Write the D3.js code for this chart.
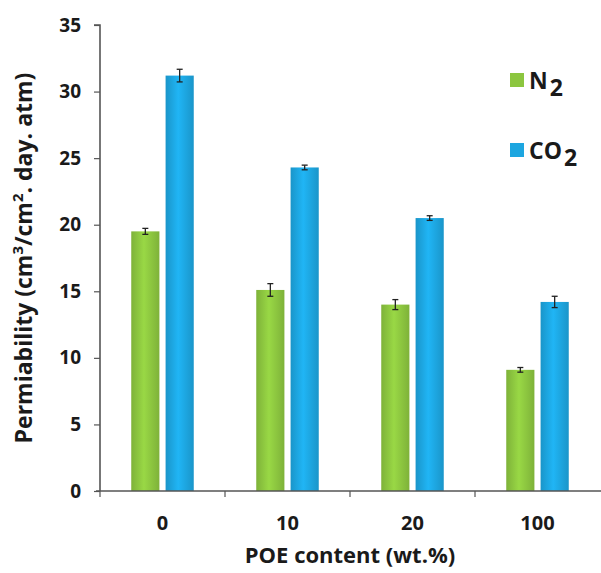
<!DOCTYPE html>
<html><head><meta charset="utf-8">
<script src="https://cdn.jsdelivr.net/npm/d3@7"></script>
<style>body{margin:0;background:#fff}text{font-family:"Open Sans",sans-serif;font-weight:700;fill:#1a1a1a}</style>
</head><body>
<svg id="c" width="601" height="573"></svg>
<script>
const categories = ["0", "10", "20", "100"];
const seriesNames = ["N2", "CO2"];
const n2Values = [19.5, 15.1, 14.0, 9.1];
const co2Values = [31.2, 24.3, 20.5, 14.2];
const n2Errors = [0.15, 0.4, 0.3, 0.1];
const co2Errors = [0.4, 0.1, 0.1, 0.35];
const yTicks = [0, 5, 10, 15, 20, 25, 30, 35];
const colors = ["#8cc63f", "#1da6e0"];

const svg = d3.select("#c");
const m = {l: 100, r: 1, t: 25, b: 82};
const W = 601, H = 573;
const x = d3.scaleBand().domain(categories).range([m.l, W - m.r]).paddingInner(0.5).paddingOuter(0.25);
const y = d3.scaleLinear().domain([0, 35]).range([H - m.b, m.t]);
const x1 = d3.scaleBand().domain(seriesNames).range([0, x.bandwidth()]).paddingInner(0.18);

const defs = svg.append("defs");
colors.forEach((c, i) => {
  const g = defs.append("linearGradient").attr("id", "g" + i).attr("x1", "0").attr("x2", "1");
  const dc = d3.color(c).darker(0.3), lc = d3.color(c).brighter(0.25);
  g.append("stop").attr("offset", "0%").attr("stop-color", dc);
  g.append("stop").attr("offset", "45%").attr("stop-color", lc);
  g.append("stop").attr("offset", "100%").attr("stop-color", dc);
});

const data = categories.map((c, i) => ({cat: c, vals: [
  {s: "N2", v: n2Values[i], e: n2Errors[i], k: 0},
  {s: "CO2", v: co2Values[i], e: co2Errors[i], k: 1}]}));

const grp = svg.append("g").selectAll("g").data(data).join("g")
  .attr("transform", d => `translate(${x(d.cat)},0)`);
grp.selectAll("rect").data(d => d.vals).join("rect")
  .attr("x", d => x1(d.s)).attr("width", x1.bandwidth())
  .attr("y", d => y(d.v)).attr("height", d => y(0) - y(d.v))
  .attr("fill", d => `url(#g${d.k})`);
const cx = d => x1(d.s) + x1.bandwidth() / 2;
const eb = grp.selectAll("g.eb").data(d => d.vals).join("g").attr("class", "eb")
  .attr("stroke", "#222").attr("stroke-width", 1.3);
eb.append("line").attr("x1", cx).attr("x2", cx)
  .attr("y1", d => y(d.v - d.e) + 1).attr("y2", d => y(d.v + d.e) - 1);
eb.append("line").attr("x1", d => cx(d) - 3).attr("x2", d => cx(d) + 3)
  .attr("y1", d => y(d.v + d.e) - 1).attr("y2", d => y(d.v + d.e) - 1);
eb.append("line").attr("x1", d => cx(d) - 3).attr("x2", d => cx(d) + 3)
  .attr("y1", d => y(d.v - d.e) + 1).attr("y2", d => y(d.v - d.e) + 1);

// y axis
const ya = svg.append("g").attr("transform", `translate(${m.l},0)`)
  .call(d3.axisLeft(y).tickValues(yTicks).tickSize(6).tickPadding(13));
ya.select(".domain").attr("stroke", "#555").attr("stroke-width", 1.6).attr("d", `M-6,${y(35)}H0V${y(0)}`);
ya.selectAll(".tick line").attr("stroke", "#555").attr("stroke-width", 1.2);
ya.selectAll(".tick text").style("font-size", "19px").style("font-family", "'Open Sans',sans-serif").style("font-weight", 700).attr("fill", "#1a1a1a");

// x axis
const bx = categories.map(c => x(c) - x.step() * x.paddingInner() / 2);
const xa = svg.append("g").attr("transform", `translate(0,${y(0)})`);
xa.append("line").attr("x1", m.l - 4).attr("x2", W).attr("stroke", "#555").attr("stroke-width", 1.6);
xa.selectAll("line.t").data(bx).join("line").attr("class", "t")
  .attr("x1", d => d).attr("x2", d => d).attr("y1", 0).attr("y2", 6).attr("stroke", "#555").attr("stroke-width", 1.2);
xa.selectAll("text").data(categories).join("text")
  .attr("x", d => x(d) + x.bandwidth()/2).attr("y", 39).attr("text-anchor", "middle")
  .style("font-size", "20px").text(d => d);

// axis titles
svg.append("text").attr("x", 350).attr("y", 563).attr("text-anchor", "middle")
  .style("font-size", "22px").text("POE content (wt.%)");
const yt = svg.append("text").attr("transform", "translate(32,258) rotate(-90)").attr("text-anchor", "middle")
  .style("font-size", "23px");
yt.append("tspan").text("Permiability (cm");
yt.append("tspan").attr("dy", -9).style("font-size", "15px").text("3");
yt.append("tspan").attr("dy", 9).text("/cm");
yt.append("tspan").attr("dy", -9).style("font-size", "15px").text("2");
yt.append("tspan").attr("dy", 9).text(". day. atm)");

// legend
const leg = svg.append("g");
const legY = [80, 150];
seriesNames.forEach((s, i) => {
  leg.append("rect").attr("x", 510).attr("y", legY[i] - 7).attr("width", 14).attr("height", 14).attr("fill", colors[i]);
  const t = leg.append("text").attr("x", 529).attr("y", legY[i] + 9).style("font-size", "23px");
  t.append("tspan").text(s.slice(0, -1));
  t.append("tspan").attr("dy", 7).attr("dx", 2).text(s.slice(-1));
});
</script>
</body></html>
